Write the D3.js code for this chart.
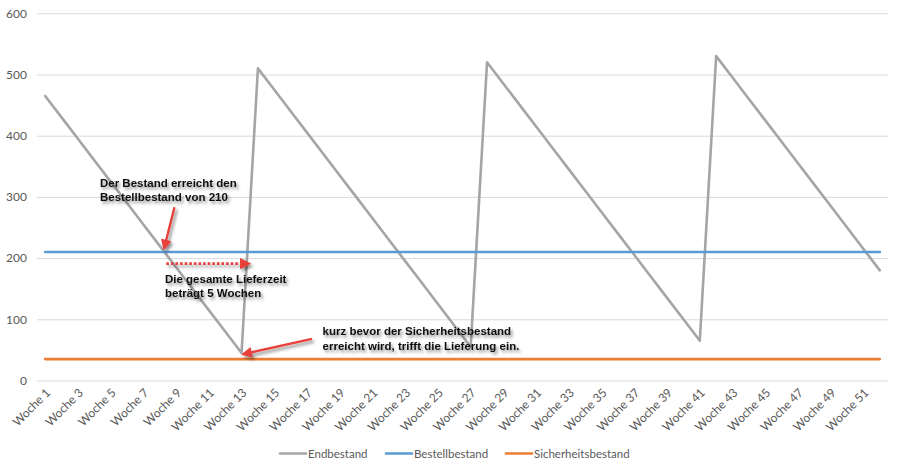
<!DOCTYPE html>
<html>
<head>
<meta charset="utf-8">
<script src="https://cdn.jsdelivr.net/npm/d3@7"></script>
<style>
  html, body { margin: 0; padding: 0; background: #fff; }
  svg { display: block; }
</style>
</head>
<body>
<svg id="chart" width="903" height="472"></svg>
<script>
// ---- Data ----
const weeks = d3.range(1, 53).map(i => "Woche " + i);
const endbestand = [
  465, 430, 395, 360, 325, 290, 255, 220, 185, 150, 115, 80, 45,
  510, 475, 440, 405, 370, 335, 300, 265, 230, 195, 160, 125, 90, 55,
  520, 485, 450, 415, 380, 345, 310, 275, 240, 205, 170, 135, 100, 65,
  530, 495, 460, 425, 390, 355, 320, 285, 250, 215, 180
];
const bestellbestand = weeks.map(() => 210);
const sicherheitsbestand = weeks.map(() => 35);
const yTicks = [0, 100, 200, 300, 400, 500, 600];
const seriesNames = ["Endbestand", "Bestellbestand", "Sicherheitsbestand"];
const seriesColors = ["#A5A5A5", "#5B9BD5", "#ED7D31"];
const annotations = [
  { lines: ["Der Bestand erreicht den", "Bestellbestand von 210"], week: 4.35, value: 316 },
  { lines: ["Die gesamte Lieferzeit", "beträgt 5 Wochen"], week: 8.32, value: 160 },
  { lines: ["kurz bevor der Sicherheitsbestand", "erreicht wird, trifft die Lieferung ein."], week: 17.95, value: 74 }
];

// ---- Layout ----
const svg = d3.select("#chart");
const margin = { left: 37, right: 15, top: 13.3, bottom: 91.5 };
const W = 903, H = 472;
const x = d3.scaleBand().domain(weeks).range([margin.left, W - margin.right]);
const y = d3.scaleLinear().domain([0, 600]).range([H - margin.bottom, margin.top]);
const cx = w => x(w) + x.bandwidth() / 2;
const cxNum = n => x(weeks[0]) + x.bandwidth() / 2 + (n - 1) * x.step();

const defs = svg.append("defs");
const f = defs.append("filter").attr("id", "shadow").attr("x", "-10%").attr("y", "-30%").attr("width", "130%").attr("height", "180%");
f.append("feDropShadow").attr("dx", 2).attr("dy", 2.5).attr("stdDeviation", 1.6)
  .attr("flood-color", "#000").attr("flood-opacity", 0.45);
defs.append("marker").attr("id", "arrowRed").attr("viewBox", "0 0 10 10")
  .attr("refX", 8).attr("refY", 5).attr("markerWidth", 4.5).attr("markerHeight", 4.5)
  .attr("orient", "auto").attr("markerUnits", "strokeWidth")
  .append("path").attr("d", "M0,0 L10,5 L0,10 Z").attr("fill", "#E8403A");

// gridlines
const yAxis = d3.axisLeft(y).tickValues(yTicks).tickSize(-(W - margin.left - margin.right)).tickPadding(10);
const gy = svg.append("g").attr("transform", `translate(${margin.left},0)`).call(yAxis);
gy.select(".domain").remove();
gy.selectAll(".tick line").attr("stroke", "#D9D9D9").attr("stroke-width", 1);
gy.selectAll(".tick text").attr("fill", "#595959").style("font", "12px Lato, 'Open Sans', sans-serif");

// x axis labels
const xAxis = d3.axisBottom(x).tickValues(weeks.filter((d, i) => i % 2 === 0)).tickSize(0).tickPadding(0);
const gx = svg.append("g").attr("transform", `translate(0,${y(0)})`).call(xAxis);
gx.select(".domain").remove();
gx.selectAll(".tick text")
  .attr("fill", "#595959")
  .style("font", "12px Lato, 'Open Sans', sans-serif")
  .attr("text-anchor", "end")
  .attr("transform", "translate(3,10) rotate(-45)")
  .attr("dy", "0.35em").attr("y", 0);

// lines
const line = d3.line().x((d, i) => cx(weeks[i])).y(d => y(d));
[endbestand, bestellbestand, sicherheitsbestand].forEach((s, k) => {
  svg.append("path").datum(s).attr("d", line)
    .attr("fill", "none").attr("stroke", seriesColors[k])
    .attr("stroke-width", 2.6).attr("stroke-linejoin", "round").attr("stroke-linecap", "round");
});

// annotations text
const ann = svg.append("g").attr("filter", "url(#shadow)");
annotations.forEach(a => {
  const t = ann.append("text").attr("x", cxNum(a.week)).attr("y", y(a.value))
    .style("font", "bold 11.5px 'Liberation Sans', Arial, sans-serif").attr("fill", "#111");
  a.lines.forEach((l, i) => t.append("tspan").attr("x", cxNum(a.week)).attr("dy", i === 0 ? 0 : 14.3).text(l));
});

// arrows
const arrowG = svg.append("g").attr("filter", "url(#shadow)");
arrowG.append("line")
  .attr("x1", cxNum(8.9)).attr("y1", y(283)).attr("x2", cxNum(8.27)).attr("y2", y(216))
  .attr("stroke", "#E8403A").attr("stroke-width", 2.4).attr("marker-end", "url(#arrowRed)");
arrowG.append("line")
  .attr("x1", cxNum(8.4)).attr("y1", y(191)).attr("x2", cxNum(13.45)).attr("y2", y(191))
  .attr("stroke", "#E8403A").attr("stroke-width", 2.6).attr("stroke-dasharray", "2.6,2")
  .attr("marker-end", "url(#arrowRed)");
arrowG.append("line")
  .attr("x1", cxNum(17.3)).attr("y1", y(68)).attr("x2", cxNum(13.1)).attr("y2", y(43))
  .attr("stroke", "#E8403A").attr("stroke-width", 2.4).attr("marker-end", "url(#arrowRed)");

// legend
const legendX = [280, 386, 506];
const lg = svg.append("g");
seriesNames.forEach((n, k) => {
  lg.append("line").attr("x1", legendX[k]).attr("x2", legendX[k] + 26).attr("y1", 453.5).attr("y2", 453.5)
    .attr("stroke", seriesColors[k]).attr("stroke-width", 2.6).attr("stroke-linecap", "round");
  lg.append("text").attr("x", legendX[k] + 28).attr("y", 453.5).attr("dy", "0.35em")
    .attr("fill", "#595959").style("font", "11.5px Lato, 'Open Sans', sans-serif").text(n);
});
</script>
</body>
</html>
